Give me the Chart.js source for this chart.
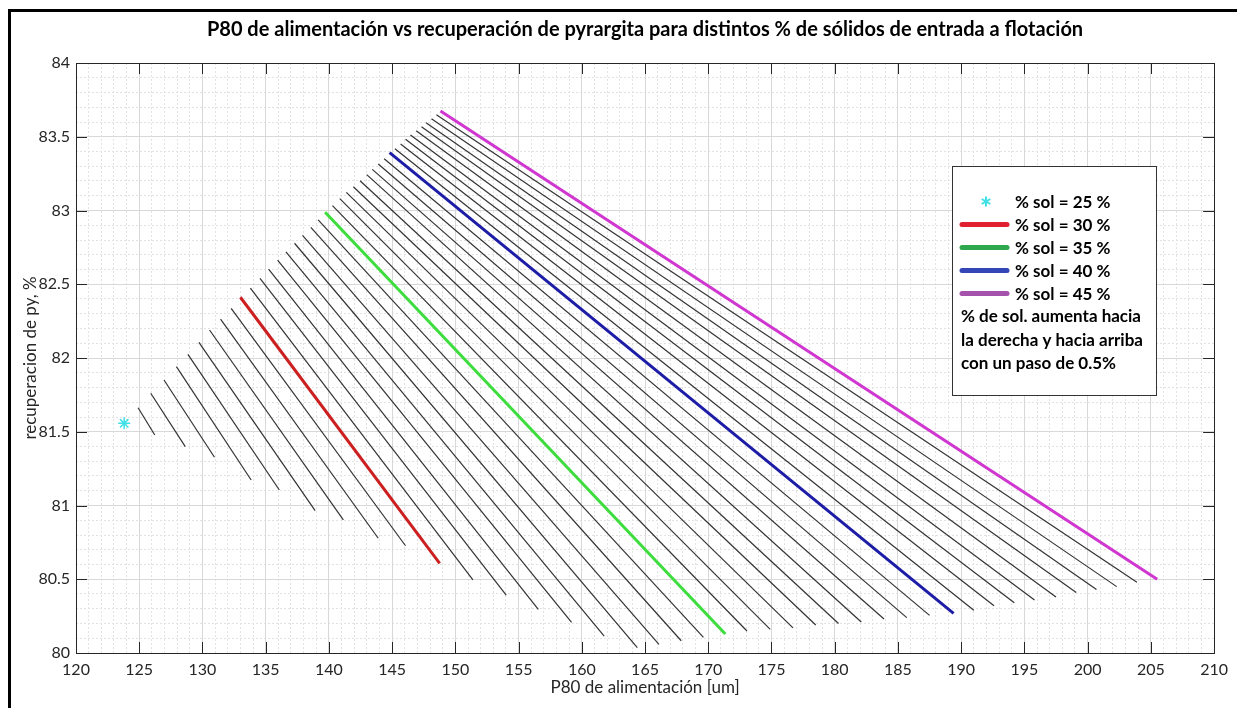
<!DOCTYPE html>
<html>
<head>
<meta charset="utf-8">
<script src="https://cdn.jsdelivr.net/npm/chart.js@4/dist/chart.umd.min.js"></script>
<style>
  html, body { margin: 0; padding: 0; background: #fff; }
  #wrap { width: 1237px; height: 708px; }
</style>
</head>
<body>
<div id="wrap"><canvas id="myChart" width="1237" height="708"></canvas></div>
<script>
// % solids for each line (25 % is a single point)
var solids = [25.5, 26, 26.5, 27, 27.5, 28, 28.5, 29, 29.5, 30,
  30.5, 31, 31.5, 32, 32.5, 33, 33.5, 34, 34.5, 35,
  35.5, 36, 36.5, 37, 37.5, 38, 38.5, 39, 39.5, 40,
  40.5, 41, 41.5, 42, 42.5, 43, 43.5, 44, 44.5, 45]

var startX = [124.91, 125.91, 126.96, 127.94, 128.85, 129.72, 130.56, 131.43, 132.27, 133.00,
  133.79, 134.55, 135.23, 135.94, 136.60, 137.28, 137.91, 138.57, 139.15, 139.70,
  140.28, 140.86, 141.38, 141.93, 142.46, 142.99, 143.43, 143.90, 144.37, 144.80,
  145.22, 145.67, 146.06, 146.45, 146.90, 147.32, 147.68, 148.11, 148.50, 148.82]
var startY = [81.663, 81.761, 81.851, 81.941, 82.025, 82.106, 82.190, 82.264, 82.337, 82.412,
  82.473, 82.540, 82.603, 82.664, 82.719, 82.778, 82.832, 82.886, 82.936, 82.988,
  83.033, 83.080, 83.123, 83.161, 83.202, 83.243, 83.279, 83.315, 83.351, 83.392,
  83.419, 83.451, 83.483, 83.512, 83.541, 83.568, 83.595, 83.622, 83.649, 83.675]
var endX = [126.23, 128.64, 130.95, 133.85, 136.08, 138.91, 141.14, 143.90, 146.06, 148.76,
  151.39, 154.02, 156.56, 159.19, 161.77, 164.39, 166.10, 167.86, 169.62, 171.35,
  173.06, 174.90, 176.70, 178.50, 180.30, 182.10, 183.90, 185.70, 187.50, 189.40,
  191.00, 192.60, 194.20, 195.80, 197.50, 199.10, 200.70, 202.30, 203.90, 205.50]
var endY = [81.478, 81.399, 81.327, 81.173, 81.105, 80.965, 80.902, 80.778, 80.727, 80.608,
  80.495, 80.393, 80.296, 80.208, 80.115, 80.036, 80.059, 80.083, 80.106, 80.129,
  80.149, 80.160, 80.170, 80.190, 80.200, 80.210, 80.230, 80.240, 80.255, 80.269,
  80.290, 80.320, 80.340, 80.360, 80.380, 80.410, 80.430, 80.450, 80.480, 80.500]

// 25 % solids: one point only
var point25 = { x: 123.81, y: 81.557 }

var xTicks = [120, 125, 130, 135, 140, 145, 150, 155, 160, 165, 170, 175, 180, 185, 190, 195, 200, 205, 210]
var yTicks = [80, 80.5, 81, 81.5, 82, 82.5, 83, 83.5, 84]

var highlight = { 30: '#cc1f1f', 35: '#3ddd3d', 40: '#1c1ca6', 45: '#d036d0' }

var legendRows = [
  { text: '% sol = 25 %', color: '#3fe0e6', star: true },
  { text: '% sol = 30 %', color: '#e0202e' },
  { text: '% sol = 35 %', color: '#2ea84c' },
  { text: '% sol = 40 %', color: '#3346b8' },
  { text: '% sol = 45 %', color: '#a552ad' }
]
var legendNote = ['% de sol. aumenta hacia', 'la derecha y hacia arriba', 'con un paso de 0.5%']

Chart.defaults.font.family = 'Lato, "Open Sans", sans-serif'

var datasets = [{
  label: '% sol = 25 %',
  data: [point25],
  showLine: false,
  pointStyle: 'star',
  pointRadius: 6,
  borderColor: '#3fe0e6',
  borderWidth: 1.5,
  backgroundColor: '#3fe0e6'
}]
solids.forEach(function (p, i) {
  var col = highlight[p]
  datasets.push({
    label: '% sol = ' + p + ' %',
    data: [{ x: startX[i], y: startY[i] }, { x: endX[i], y: endY[i] }],
    showLine: true,
    pointRadius: 0,
    borderColor: col || '#333',
    borderWidth: col ? 3 : 1.2,
    order: col ? 0 : 1
  })
})

var matlabBits = {
  id: 'matlabBits',
  afterLayout: function (chart) {
    var t = chart.titleBlock
    if (t) {
      t.left = chart.chartArea.left
      t.right = chart.chartArea.right
    }
  },
  beforeDraw: function (chart) {
    var c = chart.ctx
    c.save()
    c.fillStyle = '#fff'
    c.fillRect(0, 0, chart.width, chart.height)
    c.fillStyle = '#000'
    c.fillRect(8, 9, 3, chart.height)
    c.fillRect(8, 9, chart.width, 3)
    c.restore()
  },
  afterDraw: function (chart) {
    var c = chart.ctx
    var a = chart.chartArea
    var sx = chart.scales.x
    var sy = chart.scales.y
    c.save()
    c.strokeStyle = '#262626'
    c.lineWidth = 1
    c.beginPath()
    xTicks.forEach(function (v) {
      var px = Math.round(sx.getPixelForValue(v)) + 0.5
      c.moveTo(px, a.bottom); c.lineTo(px, a.bottom - 11)
      c.moveTo(px, a.top); c.lineTo(px, a.top + 11)
    })
    yTicks.forEach(function (v) {
      var py = Math.round(sy.getPixelForValue(v)) + 0.5
      c.moveTo(a.left, py); c.lineTo(a.left + 11, py)
      c.moveTo(a.right, py); c.lineTo(a.right - 11, py)
    })
    c.stroke()
    c.strokeRect(Math.round(a.left) + 0.5, Math.round(a.top) + 0.5, Math.round(a.right - a.left), Math.round(a.bottom - a.top))

    // legend box (pasted-in legend of the original figure)
    var bx = 952, by = 166, bw = 204, bh = 229
    c.fillStyle = '#fff'
    c.fillRect(bx, by, bw, bh)
    c.strokeStyle = '#333'
    c.strokeRect(bx + 0.5, by + 0.5, bw, bh)
    c.font = 'bold 17px Lato, sans-serif'
    c.textBaseline = 'middle'
    legendRows.forEach(function (r, i) {
      var y = 201.5 + i * 23
      if (r.star) {
        c.strokeStyle = r.color
        c.lineWidth = 2
        c.beginPath()
        for (var k = 0; k < 3; k++) {
          var ang = Math.PI / 2 + k * Math.PI / 3
          c.moveTo(986 - 5 * Math.cos(ang), y - 5 * Math.sin(ang))
          c.lineTo(986 + 5 * Math.cos(ang), y + 5 * Math.sin(ang))
        }
        c.stroke()
      } else {
        c.strokeStyle = r.color
        c.lineWidth = 5
        c.lineCap = 'round'
        c.beginPath()
        c.moveTo(962, y); c.lineTo(1007, y)
        c.stroke()
      }
      c.fillStyle = '#000'
      c.fillText(r.text, 1015, y + 1)
    })
    legendNote.forEach(function (s, i) {
      c.fillText(s, 961, 317 + i * 23.3)
    })
    c.restore()
  }
}

var ctx = document.getElementById('myChart').getContext('2d')
var myChart = new Chart(ctx, {
  type: 'scatter',
  data: { datasets: datasets },
  plugins: [matlabBits],
  options: {
    responsive: false,
    animation: false,
    devicePixelRatio: 1,
    layout: { padding: { left: 20, right: 19, top: 0, bottom: 0 } },
    plugins: {
      legend: { display: false },
      tooltip: { enabled: false },
      title: {
        display: true,
        text: 'P80 de alimentación vs recuperación de pyrargita para distintos % de sólidos de entrada a flotación',
        color: '#000',
        font: { size: 20, weight: 'bold', lineHeight: 1.2 },
        padding: { top: 18, bottom: 21 }
      }
    },
    scales: {
      xMinor: {
        type: 'linear', position: 'bottom', min: 120, max: 210,
        ticks: { display: false, stepSize: 1 },
        grid: { color: '#e2e2e2', drawTicks: false, z: -2 },
        border: { display: false, dash: [2, 2] },
        afterFit: function (s) { s.height = 0 }
      },
      yMinor: {
        type: 'linear', position: 'left', min: 80, max: 84,
        ticks: { display: false, stepSize: 0.1 },
        grid: { color: '#e2e2e2', drawTicks: false, z: -2 },
        border: { display: false, dash: [2, 2] },
        afterFit: function (s) { s.width = 0 }
      },
      x: {
        type: 'linear', position: 'bottom', min: 120, max: 210,
        afterBuildTicks: function (s) { s.ticks = xTicks.map(function (v) { return { value: v } }) },
        ticks: { color: '#262626', padding: 9, font: { size: 16, lineHeight: 1 }, maxRotation: 0, autoSkip: false,
          callback: function (v) { return String(v) } },
        grid: { color: '#d8d8d8', drawTicks: false, z: -1 },
        border: { display: false },
        title: { display: true, text: 'P80 de alimentación [um]', color: '#262626', font: { size: 17, lineHeight: 1.2 }, padding: { top: 0, bottom: 10 } },
        afterFit: function (s) { s.height = 55 }
      },
      y: {
        type: 'linear', position: 'left', min: 80, max: 84,
        afterBuildTicks: function (s) { s.ticks = yTicks.map(function (v) { return { value: v } }) },
        ticks: { color: '#262626', padding: 6, font: { size: 16 },
          callback: function (v) { return String(v) } },
        grid: { color: '#d8d8d8', drawTicks: false, z: -1 },
        border: { display: false },
        title: { display: true, text: 'recuperacion de py, %', color: '#262626', font: { size: 17, lineHeight: 1.2 }, padding: { top: 0, bottom: 0 } },
        afterFit: function (s) { s.width = 56 }
      }
    }
  }
})
</script>
</body>
</html>
